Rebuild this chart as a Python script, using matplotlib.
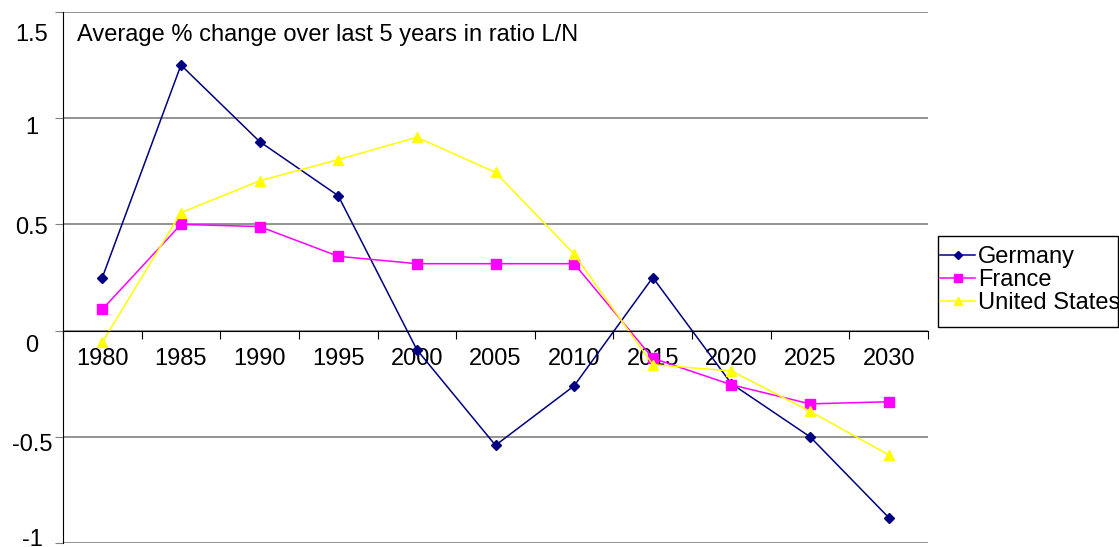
import numpy as np
import matplotlib
matplotlib.use("Agg")
import matplotlib.pyplot as plt
from matplotlib import transforms
from matplotlib.patches import Rectangle

plt.rcParams['font.family'] = ['Liberation Sans', 'DejaVu Sans']

years = ["1980", "1985", "1990", "1995", "2000", "2005", "2010", "2015", "2020", "2025", "2030"]
germany = [0.25, 1.25, 0.89, 0.635, -0.09, -0.54, -0.26, 0.25, -0.25, -0.50, -0.88]
france = [0.10, 0.50, 0.49, 0.35, 0.315, 0.315, 0.315, -0.13, -0.255, -0.345, -0.335]
usa = [-0.055, 0.555, 0.705, 0.805, 0.91, 0.745, 0.36, -0.16, -0.19, -0.38, -0.585]
yticks = [-1, -0.5, 0, 0.5, 1, 1.5]
ytick_labels = ["-1", "-0.5", "0", "0.5", "1", "1.5"]
# the labels in the original sit a bit below their gridlines (pixels)
ylabel_shift = [-3, 8, 15, 4, 10, 23]

x = np.arange(len(years))

W, H = 1119, 547
fig = plt.figure(figsize=(W/100, H/100), dpi=100)
ax = fig.add_axes([63/W, 4/H, (928-63)/W, (543-12)/H])
ax.set_ylim(-1, 1.5)
ax.set_xlim(-0.5, len(years) - 0.5)

# gridlines
ax.set_yticks(yticks)
ax.set_yticklabels([])
ax.yaxis.grid(True, color='#808080', linewidth=1.2)
ax.set_axisbelow(True)
ax.tick_params(axis='y', length=6, color='#808080')
for v, lab, sh in zip(yticks, ytick_labels, ylabel_shift):
    tr = transforms.blended_transform_factory(fig.transFigure, ax.transData)
    tr = tr + transforms.ScaledTranslation(0, -sh/100, fig.dpi_scale_trans)
    ax.text(32/W, v, lab, transform=tr, ha='center', va='center', fontsize=17,
            clip_on=False)

ax.spines['top'].set_visible(False)
ax.spines['right'].set_visible(False)
ax.spines['left'].set_color('black')
ax.spines['bottom'].set_position(('data', 0))
ax.spines['bottom'].set_color('black')

ax.set_xticks(np.arange(len(years) + 1) - 0.5)
ax.set_xticklabels([])
ax.set_xticks(x, minor=True)
ax.set_xticklabels(years, minor=True, fontsize=17)
ax.tick_params(axis='x', which='major', length=6, direction='out')
ax.tick_params(axis='x', which='minor', length=0, pad=12.5)

ax.plot(x, germany, color='#000080', marker='D', markersize=5, linewidth=1.1, label='Germany')
ax.plot(x, france, color='#FF00FF', marker='s', markersize=7.5, linewidth=1.1, label='France')
ax.plot(x, usa, color='#FFFF00', marker='^', markersize=7, linewidth=1.1, label='United States')

fig.text(77/W, 1 - 35/H, "Average % change over last 5 years in ratio L/N", fontsize=17, va='center')

# legend box drawn separately so the inner padding can be tight sideways
fig.patches.append(Rectangle((938/W, 1 - 327/H), (1118-938)/W, (327-236)/H,
                             transform=fig.transFigure, fill=False,
                             edgecolor='black', linewidth=1.0))
leg = fig.legend(loc='upper left', bbox_to_anchor=(940/W, 1 - 246/H), fontsize=17,
                 frameon=False, borderpad=0, labelspacing=0.05,
                 handlelength=1.5, handletextpad=0.1, borderaxespad=0, markerscale=0.8)

fig.savefig("out.png", dpi=100)
